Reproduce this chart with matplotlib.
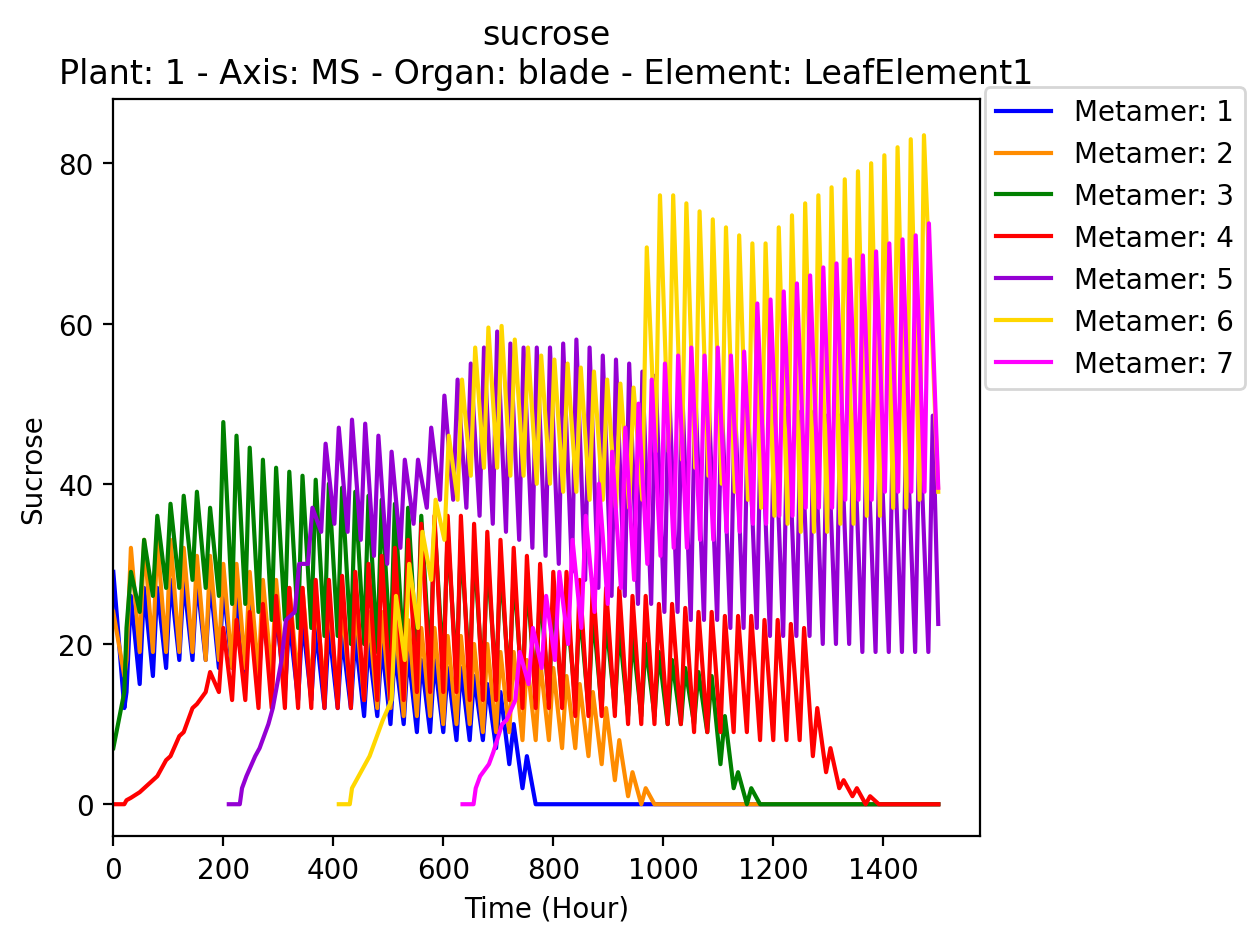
import numpy as np
import matplotlib
matplotlib.use("Agg")
import matplotlib.pyplot as plt

# daily peaks / troughs (Sucrose)
t_end = 1500
starts = [0, 0, 0, 0, 210, 410, 635]
start_vals = [29, 24, 7, 0, 0, 0, 0]
end_vals = [0, 0, 0, 0, 22.5, 39, 39.5]
colors = ['blue', 'darkorange', 'green', 'red', 'darkviolet', 'gold', 'magenta']

peaks = [
    [25, 26, 27, 27, 28, 28, 28, 28, 27, 26, 25, 24, 24, 23, 23, 22, 22, 21, 21, 20, 20, 19, 19, 18, 18, 17, 17, 16, 15, 14, 10, 6],
    [30, 32, 33, 33, 33, 32, 31, 31, 30, 30, 29, 28, 28, 27, 27, 26, 26, 25, 25, 24, 24, 23, 23, 22, 22, 21, 21, 20, 20, 19, 19, 18, 18, 17, 16, 15, 14, 12, 8, 4, 2],
    [25, 29, 33, 36, 37.5, 38.5, 39, 37, 47.7, 46, 44.5, 43, 42, 41.5, 41, 40.5, 40, 39.5, 39, 38.5, 38, 37.5, 37, 36, 35, 34, 33, 32, 31, 30, 29, 28, 27, 26, 25, 24.5, 24, 23, 22, 21, 20, 19, 18, 17, 16.5, 16, 11, 4, 2],
    [0.3, 0.8, 2, 3.5, 6, 9, 12.5, 16.5, 22, 23, 24, 25, 26, 27, 27, 28, 28, 28.5, 29, 30, 31, 32, 33, 35, 36, 36, 36, 35, 34, 33, 32, 31, 30, 29, 29, 28, 28, 27, 27, 26, 26, 25, 25, 24.5, 24, 24, 23.5, 23.5, 23.5, 23, 23, 22.5, 22, 12, 7, 3, 2, 1, 0],
    [1, 3.5, 7, 12, 23, 30, 37, 45, 47, 48, 47.5, 46, 44, 43, 43, 47, 51, 53, 55, 57, 59, 57.5, 57, 57, 57, 57.5, 58, 57, 56, 55.5, 55, 54, 53.5, 53, 52.5, 52, 51.5, 51, 50.5, 50, 50, 49.5, 49.5, 49, 49, 48.5, 48.5, 48, 48, 48, 49, 48.5, 48, 48.5],
    [1, 3, 6, 10.5, 26, 30, 34, 38, 46, 53, 57, 59.5, 59.7, 58, 57, 56, 55.5, 55, 54.5, 54, 53, 52.5, 52, 69.5, 76, 76, 75, 74, 73, 72, 71, 70, 70, 72, 73.5, 75, 76, 77, 78, 79, 80, 81, 82, 83, 83.5],
    [1, 3.5, 6.5, 10.5, 19, 22, 26, 29, 33, 36, 40, 44, 47, 50, 53, 55, 56, 57, 56, 57, 56, 56.5, 62.5, 63, 64, 65, 66, 67, 67.5, 68, 68.5, 69, 70, 70.5, 71, 72.5],
]
troughs = [
    [12, 14, 15, 16, 17, 18, 18, 18, 17, 17, 16, 15, 15, 14, 13, 13, 12, 12, 12, 11, 11, 10, 10, 9, 9, 9, 8, 8, 8, 7, 5, 2],
    [16, 18, 19, 19, 19, 19, 19, 18, 18, 17, 17, 16, 16, 15, 15, 14, 14, 13, 13, 13, 12, 12, 11, 11, 11, 10, 10, 10, 9, 9, 9, 8, 8, 8, 7, 7, 6, 5, 3, 1, 0],
    [14, 22, 24, 26, 27, 27, 28, 27, 26, 25, 25, 24, 23, 23, 22, 22, 21, 21, 20, 20, 19, 19, 18, 18, 17, 17, 16, 16, 15, 15, 15, 14, 14, 13, 13, 13, 12, 12, 12, 11, 11, 11, 10, 10, 10, 9, 5, 2, 0],
    [0, 0.5, 1.5, 3, 5.5, 8.5, 12, 14, 14, 13, 13, 12, 12, 12, 12, 12, 12, 12, 12, 13, 13, 13, 13, 14, 14, 14, 14, 13, 13, 13, 13, 12, 12, 12, 12, 11, 11, 11, 11, 10, 10, 10, 10, 10, 9, 9, 9, 9, 9, 8, 8, 8, 8, 6, 4, 2, 1, 0, 0],
    [0, 2, 6, 10, 18, 24, 30, 34, 35, 34, 33, 31, 30, 32, 35, 37, 38, 38, 37, 36, 35, 34, 33, 32, 31, 30, 29, 28, 27, 26, 26, 25, 25, 24, 24, 23, 23, 23, 22, 22, 22, 21, 21, 21, 21, 20, 20, 20, 19, 19, 19, 19, 19, 19],
    [0, 2, 5, 9, 13, 18, 22, 28, 33, 38, 41, 42, 42, 41, 41, 40, 40, 39, 39, 38, 38, 37, 37, 38, 44, 44, 43, 42, 41, 40, 39, 38, 37, 36, 35, 34, 34, 34, 35, 35, 36, 36, 37, 37, 38],
    [0, 2, 5, 10, 13, 15, 17, 18, 20, 22, 24, 25, 27, 28, 30, 31, 32, 32, 33, 33, 34, 34, 35, 35, 36, 36, 37, 37, 37, 38, 38, 38, 39, 39, 39, 39],
]


def build(t0, v0, pk, tr, v_end):
    t = [t0]
    v = [v0]
    for i, (p, q) in enumerate(zip(pk, tr)):
        ti = t0 + 24 * i
        if ti + 8 > t_end:
            break
        if i == 0:
            t.append(ti + 20)
            v.append(q)
            continue
        t.append(ti)
        v.append(q)
        t.append(ti + 8)
        v.append(p)
    last = t[-1]
    if v_end == 0:
        t += [last + 16, t_end]
        v += [0, 0]
    else:
        t.append(t_end)
        v.append(v_end)
    return np.array(t), np.array(v)


fig, ax = plt.subplots(figsize=(6.295, 4.725), dpi=200)
for k in range(7):
    t, v = build(starts[k], start_vals[k], peaks[k], troughs[k], end_vals[k])
    ax.plot(t, v, color=colors[k], label=f'Metamer: {k + 1}')

ax.set_xlim(0, 1575)
ax.set_ylim(-4, 88)
ax.set_xlabel('Time (Hour)')
ax.set_ylabel('Sucrose')
ax.set_title('sucrose\nPlant: 1 - Axis: MS - Organ: blade - Element: LeafElement1')
ax.legend(loc='upper left', bbox_to_anchor=(0.99, 1.035))
fig.subplots_adjust(left=0.09, right=0.778, top=0.894, bottom=0.114)
fig.savefig('out.png', dpi=200)
